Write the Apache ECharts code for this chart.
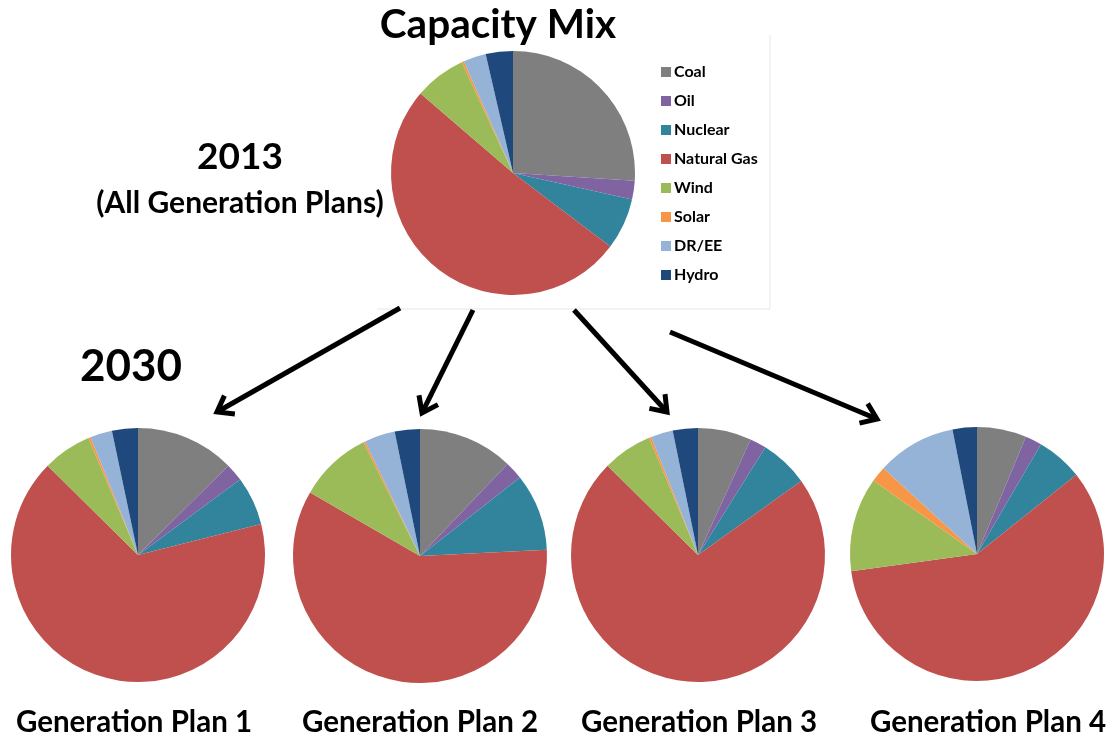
<!DOCTYPE html>
<html>
<head>
<meta charset="utf-8">
<script src="https://cdn.jsdelivr.net/npm/echarts@6/dist/echarts.min.js"></script>
<style>
  html, body { margin: 0; padding: 0; background: #fff; }
  #chart { width: 1109px; height: 736px; }
</style>
</head>
<body>
<div id="chart"></div>
<script>
// ---- Data ----
const categories = ['Coal', 'Oil', 'Nuclear', 'Natural Gas', 'Wind', 'Solar', 'DR/EE', 'Hydro'];
const mix2013 = [26.0, 2.5, 6.8, 51.0, 6.8, 0.3, 3.0, 3.6];
const plan1 = [12.6, 2.3, 6.2, 66.4, 6.2, 0.3, 2.8, 3.3];
const plan2 = [12.1, 2.3, 9.8, 59.1, 9.3, 0.25, 3.9, 3.2];
const plan3 = [6.8, 2.1, 6.2, 72.3, 6.3, 0.3, 2.8, 3.2];
const plan4 = [6.3, 2.1, 5.9, 58.6, 12.0, 2.0, 10.1, 3.1];
const planLabels = ['Generation Plan 1', 'Generation Plan 2', 'Generation Plan 3', 'Generation Plan 4'];
const titleText = 'Capacity Mix';
const yearTop = '2013';
const yearTopSub = '(All Generation Plans)';
const yearBottom = '2030';

// ---- Styling / layout ----
const colors = ['#7F7F7F', '#8064A2', '#31849B', '#C0504D', '#9BBB59', '#F79646', '#95B3D7', '#1F497D'];
const FONT = 'Lato, "Open Sans", sans-serif';

const chart = echarts.init(document.getElementById('chart'), null, { renderer: 'canvas' });

function toData(vals) {
  return categories.map((c, i) => ({ name: c, value: vals[i] }));
}
function pieSeries(vals, center, radius) {
  return {
    type: 'pie',
    center: center,
    radius: radius,
    startAngle: 90,
    clockwise: true,
    silent: true,
    label: { show: false },
    labelLine: { show: false },
    itemStyle: { borderWidth: 0 },
    emphasis: { disabled: true },
    data: toData(vals)
  };
}

function arrow(x1, y1, x2, y2) {
  const dx = x2 - x1, dy = y2 - y1;
  const len = Math.sqrt(dx * dx + dy * dy);
  const ux = dx / len, uy = dy / len;
  const L = 18, ang = Math.PI / 5;
  const cos = Math.cos(ang), sin = Math.sin(ang);
  const p1 = [x2 - L * (ux * cos - uy * sin), y2 - L * (uy * cos + ux * sin)];
  const p2 = [x2 - L * (ux * cos + uy * sin), y2 - L * (uy * cos - ux * sin)];
  return [
    { type: 'line', shape: { x1: x1, y1: y1, x2: x2 - ux * 2, y2: y2 - uy * 2 }, style: { stroke: '#000', lineWidth: 5 }, silent: true },
    { type: 'polyline', shape: { points: [p1, [x2, y2], p2] }, style: { stroke: '#000', lineWidth: 5, fill: null, lineJoin: 'miter' }, silent: true }
  ];
}

function txt(text, x, y, size, align) {
  return {
    type: 'text', x: x, y: y, silent: true,
    style: { text: text, font: 'bold ' + size + 'px ' + FONT, fill: '#000', align: align || 'center', verticalAlign: 'middle' }
  };
}

const graphics = [
  { type: 'line', shape: { x1: 770, y1: 35, x2: 770, y2: 309 }, style: { stroke: '#e6e6e6', lineWidth: 1 }, silent: true },
  { type: 'line', shape: { x1: 377, y1: 309, x2: 770, y2: 309 }, style: { stroke: '#e6e6e6', lineWidth: 1 }, silent: true },
  txt(titleText, 498, 25, 40.5),
  txt(yearTop, 240, 157, 37),
  txt(yearTopSub, 240, 203, 30),
  txt(yearBottom, 131, 367, 44),
  txt(planLabels[0], 134, 722, 29.5),
  txt(planLabels[1], 420, 722, 29.5),
  txt(planLabels[2], 699, 722, 29.5),
  txt(planLabels[3], 988, 722, 29.5)
].concat(
  arrow(400, 308, 217, 412),
  arrow(473, 310, 422, 413),
  arrow(574, 310, 667, 412),
  arrow(670, 332, 877, 419)
);

chart.setOption({
  animation: false,
  color: colors,
  legend: {
    orient: 'vertical',
    left: 656,
    top: 59,
    itemWidth: 10,
    itemHeight: 10,
    itemGap: 13,
    icon: 'rect',
    selectedMode: false,
    data: categories,
    textStyle: { fontFamily: FONT, fontWeight: 'bold', fontSize: 16, color: '#000', lineHeight: 16, padding: [0, 0, 0, -2] }
  },
  series: [
    pieSeries(mix2013, [513, 173], 122),
    pieSeries(plan1, [138, 555], 127),
    pieSeries(plan2, [420, 556], 127),
    pieSeries(plan3, [698, 555], 127),
    pieSeries(plan4, [977, 554], 127)
  ],
  graphic: graphics
});
</script>
</body>
</html>
